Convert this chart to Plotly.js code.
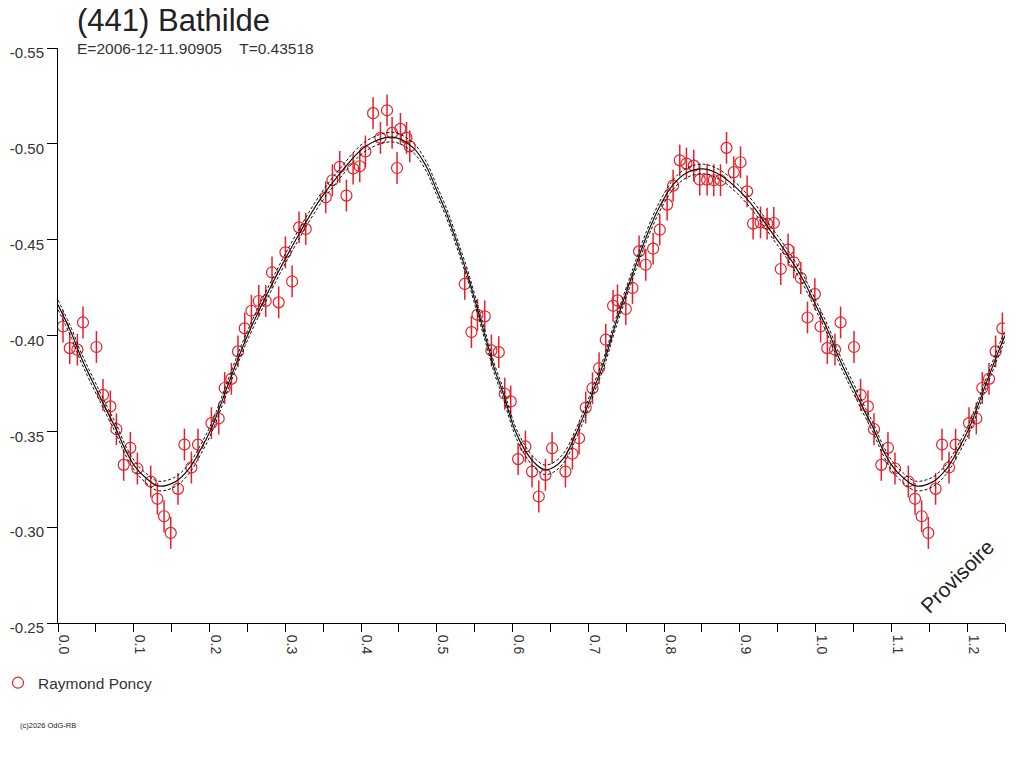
<!DOCTYPE html>
<html><head><meta charset="utf-8">
<script src="https://cdn.plot.ly/plotly-3.0.1.min.js"></script>
<style>html,body{margin:0;padding:0;background:#fff;} #chart{width:1024px;height:768px;}</style>
</head><body><div id="chart"></div>
<script>
const obsPhase = [0.0066,0.0155,0.0256,0.033,0.0507,0.0594,0.0691,0.0771,0.0867,0.0955,
  0.1048,0.1224,0.1312,0.14,0.1488,0.1584,0.1669,0.1761,0.1848,0.2025,
  0.2121,0.22,0.2289,0.2376,0.2465,0.2553,0.265,0.2742,0.2825,0.2913,
  0.3002,0.309,0.3182,0.327,0.3534,0.3622,0.3719,0.3807,0.3895,0.3983,
  0.4058,0.4159,0.4256,0.4343,0.441,0.4475,0.452,0.46,0.4643,0.5369,
  0.5457,0.5537,0.5633,0.5721,0.5818,0.5897,0.5976,0.6073,0.617,0.6257,
  0.6346,0.6434,0.6522,0.6698,0.679,0.6878,0.6966,0.7055,0.7142,0.723,
  0.7327,0.7385,0.7495,0.7583,0.767,0.7758,0.7855,0.7943,0.804,0.8119,
  0.8207,0.8295,0.8392,0.8471,0.8568,0.8656,0.8745,0.8824,0.892,0.9009,
  0.9096,0.9175,0.9273,0.936,0.9448,0.954,0.9637,0.9712,0.9805,0.9893,0.999];
const obsMag = [-0.4047,-0.3934,-0.3926,-0.4068,-0.394,-0.369,-0.363,-0.3511,-0.3325,-0.3414,
  -0.3306,-0.3238,-0.3148,-0.3057,-0.297,-0.32,-0.3431,-0.3311,-0.3431,-0.3543,
  -0.3567,-0.3726,-0.3774,-0.3917,-0.4037,-0.4129,-0.418,-0.418,-0.4329,-0.4173,
  -0.4434,-0.4282,-0.4564,-0.4556,-0.4721,-0.481,-0.488,-0.473,-0.4871,-0.4883,
  -0.496,-0.516,-0.5031,-0.5175,-0.5057,-0.4874,-0.5078,-0.5031,-0.4987,-0.4269,
  -0.4018,-0.4108,-0.41,-0.3922,-0.3913,-0.3696,-0.3656,-0.3355,-0.3421,-0.329,
  -0.316,-0.3273,-0.3412,-0.329,-0.3383,-0.3464,-0.3624,-0.3725,-0.383,-0.3978,
  -0.4155,-0.4183,-0.4138,-0.4248,-0.4439,-0.4369,-0.4453,-0.4552,-0.4683,-0.4782,
  -0.4914,-0.4897,-0.4886,-0.4813,-0.4813,-0.481,-0.481,-0.4979,-0.4852,-0.4904,
  -0.4752,-0.4584,-0.459,-0.4584,-0.4587,-0.4347,-0.4448,-0.4382,-0.43,-0.4094,-0.4216];
const obsErr = 0.0083;

// Fitted light curve, phase 0..1
const fitPhase = [0.000,0.018,0.029,0.040,0.053,0.066,0.077,0.088,0.101,0.115,
  0.132,0.154,0.172,0.189,0.203,0.227,0.249,0.288,0.319,0.346,
  0.372,0.407,0.442,0.469,0.486,0.4995,0.5127,0.5237,0.5325,0.5413,
  0.5501,0.5589,0.5677,0.5765,0.5875,0.6029,0.6161,0.6293,0.6425,0.6557,
  0.6689,0.6821,0.6953,0.7085,0.7217,0.7349,0.759,0.7767,0.7943,0.8119,
  0.8295,0.8515,0.8735,0.8955,0.9175,0.9395,0.9616,0.9835,1.000];
const fitMag = [-0.416,-0.401,-0.390,-0.3805,-0.370,-0.3595,-0.351,-0.341,-0.332,-0.326,
  -0.3215,-0.3235,-0.330,-0.341,-0.352,-0.377,-0.399,-0.431,-0.4535,-0.471,
  -0.4845,-0.499,-0.5035,-0.4979,-0.4883,-0.4761,-0.4639,-0.4517,-0.4413,-0.4308,
  -0.4187,-0.4065,-0.3943,-0.3821,-0.370,-0.3508,-0.3403,-0.3334,-0.3299,-0.3316,
  -0.3368,-0.3473,-0.3595,-0.3734,-0.3873,-0.4047,-0.4326,-0.4517,-0.4674,-0.4787,
  -0.4848,-0.4869,-0.4839,-0.477,-0.4674,-0.4552,-0.443,-0.4291,-0.416];
const fitBand = 0.0025;

const xTickVals = [0,0.1,0.2,0.3,0.4,0.5,0.6,0.7,0.8,0.9,1.0,1.1,1.2];
const xTickText = ['0.0','0.1','0.2','0.3','0.4','0.5','0.6','0.7','0.8','0.9','1.0','1.1','1.2'];
const yTickVals = [-0.55,-0.50,-0.45,-0.40,-0.35,-0.30,-0.25];
const yTickText = ['-0.55','-0.50','-0.45','-0.40','-0.35','-0.30','-0.25'];

const observer = 'Raymond Poncy';
const titleText = '(441) Bathilde';
const subtitleText = 'E=2006-12-11.90905&nbsp;&nbsp;&nbsp;&nbsp;T=0.43518';

// Phase wrap: repeat first quarter of phase after 1.0
const wrapLimit = 0.25;
const ox = [], oy = [];
obsPhase.forEach((p,i)=>{ox.push(p); oy.push(obsMag[i]);});
obsPhase.forEach((p,i)=>{ if(p<wrapLimit){ox.push(p+1); oy.push(obsMag[i]);} });
const fx = [], fy = [];
fitPhase.forEach((p,i)=>{fx.push(p); fy.push(fitMag[i]);});
fitPhase.forEach((p,i)=>{ if(p>0 && p<0.3){fx.push(p+1); fy.push(fitMag[i]);} });

const FONT = 'Liberation Sans, Arial, Helvetica, sans-serif';
const RED = '#e8202a';

const traces = [
  {x: ox, y: oy, type:'scatter', mode:'markers', name: observer,
   marker:{symbol:'circle-open', size:11, color:RED, line:{color:RED, width:1.2}},
   error_y:{type:'constant', value:obsErr, color:RED, thickness:1.5, width:0},
   showlegend:true},
  {x: fx, y: fy.map(v=>v-fitBand), type:'scatter', mode:'lines', showlegend:false, hoverinfo:'skip',
   line:{color:'#111', width:1, dash:'3px,2px', shape:'spline', smoothing:1}},
  {x: fx, y: fy.map(v=>v+fitBand), type:'scatter', mode:'lines', showlegend:false, hoverinfo:'skip',
   line:{color:'#111', width:1, dash:'3px,2px', shape:'spline', smoothing:1}},
  {x: fx, y: fy, type:'scatter', mode:'lines', showlegend:false, hoverinfo:'skip',
   line:{color:'#111', width:1.2, shape:'spline', smoothing:1}}
];

const layout = {
  width:1024, height:768,
  margin:{l:58, r:19, t:48, b:145, autoexpand:false},
  paper_bgcolor:'#fff', plot_bgcolor:'#fff',
  font:{family:FONT, color:'#333', size:13},
  title:{text:titleText, xref:'container', yref:'container', x:77/1024, xanchor:'left',
         y:1-20/768, yanchor:'middle', font:{family:FONT, size:31, color:'#222'}},
  xaxis:{range:[0,1.25], tickvals:xTickVals, ticktext:xTickText, tickangle:90, automargin:false,
         ticks:'outside', ticklen:8, tickcolor:'#000', tickwidth:1,
         showline:true, linecolor:'#000', linewidth:1, showgrid:false, zeroline:false,
         tickfont:{family:FONT, size:14, color:'#333'}, ticklabelshift:6,
         minor:{dtick:0.05, tick0:0, ticks:'outside', ticklen:8, tickcolor:'#000', tickwidth:1, showgrid:false}},
  yaxis:{range:[-0.25,-0.55], tickvals:yTickVals, ticktext:yTickText, automargin:false,
         ticks:'outside', ticklen:10, tickcolor:'#000', tickwidth:1,
         showline:true, linecolor:'#000', linewidth:1, showgrid:false, zeroline:false,
         tickfont:{family:FONT, size:15, color:'#333'}, ticklabelshift:-5, ticklabelstandoff:0},
  showlegend:true,
  legend:{x:-60/947, xanchor:'left', y:-0.075, yanchor:'top',
          font:{family:FONT, size:15.5, color:'#333'}, bgcolor:'rgba(0,0,0,0)', itemwidth:30},
  annotations:[
    {text:subtitleText, xref:'paper', yref:'paper', x:(75-58)/947, xanchor:'left', y:1, yanchor:'middle',
     showarrow:false, font:{family:FONT, size:15.5, color:'#333'}},
    {text:'Provisoire', xref:'paper', yref:'paper', x:(957-58)/947, y:(623-577)/574.5,
     xanchor:'center', yanchor:'middle', textangle:-45, showarrow:false,
     font:{family:FONT, size:21, color:'#222'}},
    {text:'(c)2026 OdG-RB', xref:'paper', yref:'paper', x:(18-58)/947, xanchor:'left',
     y:(623-725)/574.5, yanchor:'middle', showarrow:false, font:{family:FONT, size:7.5, color:'#222'}}
  ]
};

Plotly.newPlot('chart', traces, layout, {displayModeBar:false, staticPlot:true});
</script>
</body></html>
